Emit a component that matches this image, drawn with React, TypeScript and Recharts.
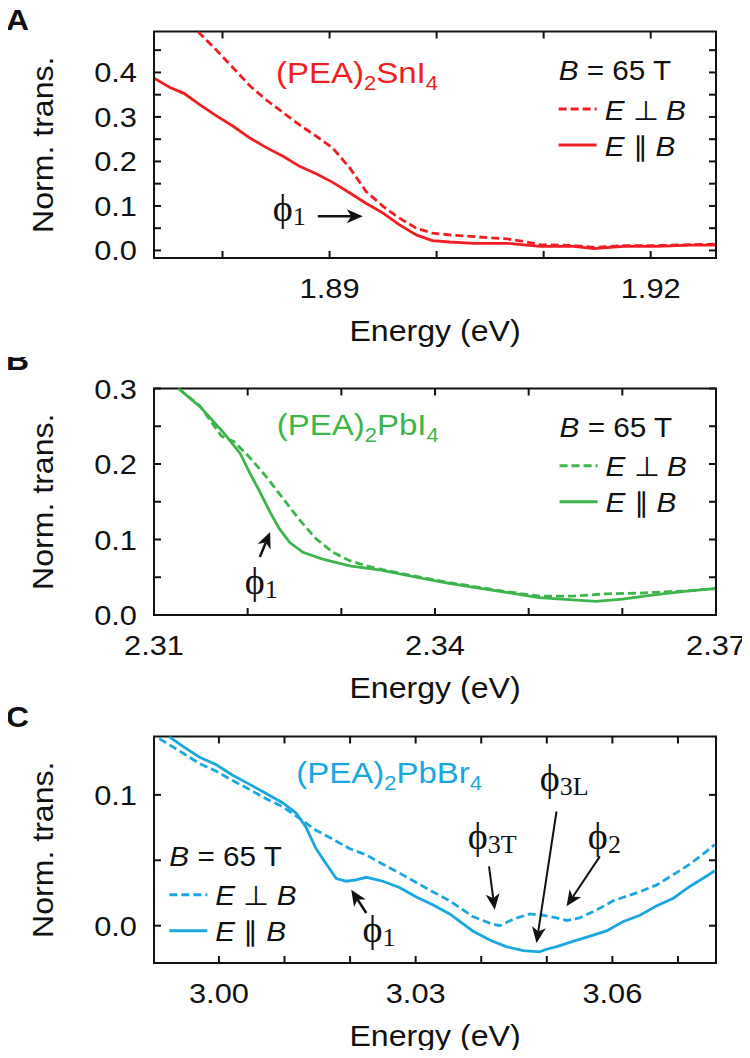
import React from 'react';
import { LineChart, Line, XAxis, YAxis, ReferenceDot, ReferenceLine, ReferenceArea } from 'recharts';

const SANS = '"Liberation Sans", Arial, Helvetica, sans-serif';
const SERIF = '"Liberation Serif", "DejaVu Serif", "Times New Roman", serif';
const SX = 1.1;
const INK = '#111';

const RED = '#f01e23';
const GREEN = '#3db54a';
const BLUE = '#1aa7e0';

const PLOT_W = 562;
const PLOT_H = 226.5;

// ---------------- Panel A: (PEA)2SnI4 ----------------
const snDomainX = [1.8736, 1.9261];
const snDomainY = [-0.017, 0.492];
const snTicksX = [1.88, 1.89, 1.9, 1.91, 1.92];
const snLabelsX = [1.89, 1.92];
const snTicksY = [0, 0.05, 0.1, 0.15, 0.2, 0.25, 0.3, 0.35, 0.4, 0.45];
const snLabelsY = [0, 0.1, 0.2, 0.3, 0.4];
const snParE = [1.8736, 1.8751, 1.8764, 1.8779, 1.8794, 1.881, 1.8826, 1.8841, 1.8857, 1.8872, 1.8888, 1.8903, 1.8919, 1.8934, 1.895, 1.8965, 1.8981, 1.8996, 1.9012, 1.9035, 1.9066, 1.9097, 1.9128, 1.9147, 1.9175, 1.9206, 1.9237, 1.926];
const snParT = [0.387, 0.366, 0.353, 0.327, 0.303, 0.279, 0.252, 0.231, 0.211, 0.189, 0.172, 0.153, 0.129, 0.106, 0.084, 0.058, 0.035, 0.022, 0.019, 0.016, 0.016, 0.009, 0.009, 0.004, 0.009, 0.009, 0.012, 0.012];
const snPerpE = [1.8777, 1.8794, 1.881, 1.8826, 1.8841, 1.8857, 1.8872, 1.8888, 1.8903, 1.8919, 1.8934, 1.895, 1.8965, 1.8981, 1.8996, 1.9012, 1.9035, 1.9066, 1.9081, 1.9097, 1.9128, 1.9147, 1.9175, 1.9206, 1.9237, 1.926];
const snPerpT = [0.492, 0.451, 0.41, 0.369, 0.338, 0.309, 0.282, 0.256, 0.23, 0.185, 0.133, 0.099, 0.073, 0.05, 0.039, 0.035, 0.031, 0.026, 0.02, 0.013, 0.011, 0.007, 0.011, 0.011, 0.013, 0.014];

// ---------------- Panel B: (PEA)2PbI4 ----------------
const pbiDomainX = [2.31, 2.37];
const pbiDomainY = [0, 0.3];
const pbiTicksX = [2.31, 2.32, 2.33, 2.34, 2.35, 2.36, 2.37];
const pbiLabelsX = [2.31, 2.34, 2.37];
const pbiTicksY = [0, 0.05, 0.1, 0.15, 0.2, 0.25, 0.3];
const pbiLabelsY = [0, 0.1, 0.2, 0.3];
const pbiParE = [2.3126, 2.3149, 2.3174, 2.3192, 2.3202, 2.3213, 2.3224, 2.3234, 2.3245, 2.3259, 2.328, 2.3309, 2.3344, 2.338, 2.3415, 2.344, 2.3476, 2.3511, 2.3547, 2.3572, 2.36, 2.3636, 2.3671, 2.3699];
const pbiParT = [0.3, 0.276, 0.242, 0.214, 0.189, 0.163, 0.136, 0.114, 0.096, 0.083, 0.074, 0.065, 0.059, 0.05, 0.042, 0.037, 0.03, 0.023, 0.02, 0.018, 0.021, 0.027, 0.032, 0.035];
const pbiPerpE = [2.3126, 2.3149, 2.3172, 2.3185, 2.3202, 2.322, 2.3238, 2.3256, 2.3273, 2.3291, 2.3309, 2.3327, 2.3344, 2.338, 2.3415, 2.344, 2.3476, 2.3511, 2.3547, 2.3582, 2.3618, 2.365, 2.3671, 2.3699];
const pbiPerpT = [0.3, 0.277, 0.237, 0.23, 0.209, 0.183, 0.154, 0.125, 0.101, 0.083, 0.072, 0.065, 0.06, 0.051, 0.043, 0.038, 0.031, 0.025, 0.025, 0.028, 0.029, 0.031, 0.032, 0.035];

// ---------------- Panel C: (PEA)2PbBr4 ----------------
const pbbDomainX = [2.9901, 3.0758];
const pbbDomainY = [-0.0285, 0.1446];
const pbbTicksX = [3.0, 3.01, 3.02, 3.03, 3.04, 3.05, 3.06, 3.07];
const pbbLabelsX = [3.0, 3.03, 3.06];
const pbbTicksY = [0, 0.05, 0.1];
const pbbLabelsY = [0, 0.1];
const pbbParE = [2.9924, 2.9945, 2.997, 2.9996, 3.0021, 3.0047, 3.0072, 3.0097, 3.0118, 3.0133, 3.0148, 3.0164, 3.0179, 3.0194, 3.0209, 3.0225, 3.025, 3.0276, 3.0301, 3.0326, 3.0352, 3.0387, 3.0413, 3.0438, 3.0464, 3.0489, 3.05, 3.0515, 3.054, 3.0566, 3.0591, 3.0616, 3.0642, 3.0667, 3.0693, 3.0718, 3.0744, 3.0756];
const pbbParT = [0.1446, 0.137, 0.129, 0.123, 0.115, 0.108, 0.101, 0.094, 0.086, 0.075, 0.059, 0.047, 0.036, 0.034, 0.035, 0.037, 0.034, 0.029, 0.022, 0.016, 0.009, -0.004, -0.011, -0.016, -0.019, -0.02, -0.018, -0.016, -0.012, -0.008, -0.004, 0.003, 0.008, 0.015, 0.021, 0.03, 0.038, 0.042];
const pbbPerpE = [2.9909, 2.9945, 2.997, 2.9996, 3.0021, 3.0047, 3.0072, 3.0097, 3.0123, 3.0148, 3.0174, 3.0199, 3.0225, 3.025, 3.0276, 3.0301, 3.0326, 3.0352, 3.0387, 3.0413, 3.0428, 3.0449, 3.0474, 3.0494, 3.0515, 3.053, 3.055, 3.0576, 3.0601, 3.0642, 3.0667, 3.0693, 3.0718, 3.0744, 3.0756];
const pbbPerpT = [0.143, 0.132, 0.124, 0.118, 0.111, 0.104, 0.097, 0.091, 0.082, 0.073, 0.066, 0.059, 0.054, 0.047, 0.04, 0.033, 0.026, 0.019, 0.007, 0.002, 0.0, 0.005, 0.009, 0.008, 0.006, 0.004, 0.006, 0.012, 0.019, 0.026, 0.031, 0.039, 0.047, 0.057, 0.062];

const toPts = (e: number[], t: number[]) => e.map((x, i) => ({ e: x, t: t[i] }));
const has = (arr: number[], v: number) => arr.some((a) => Math.abs(a - v) < 1e-9);

const TL = 7;
const TICK_FS = 28;

const BottomTick = (props: any) => {
  const { x, y, payload, labels, col } = props;
  const v = payload.value;
  return (
    <g>
      <line x1={x} y1={y} x2={x} y2={y - TL} stroke={col} strokeWidth={2} />
      <line x1={x} y1={y - PLOT_H} x2={x} y2={y - PLOT_H + TL} stroke={col} strokeWidth={2} />
      {has(labels, v) && (
        <text transform={`translate(${x},${y + 40}) scale(${SX},1)`} textAnchor="middle" fontSize={TICK_FS} fontFamily={SANS} fill={INK}>
          {v.toFixed(2)}
        </text>
      )}
    </g>
  );
};
const LeftTick = (props: any) => {
  const { x, y, payload, labels, col } = props;
  const v = payload.value;
  return (
    <g>
      <line x1={x} y1={y} x2={x + TL} y2={y} stroke={col} strokeWidth={2} />
      <line x1={x + PLOT_W} y1={y} x2={x + PLOT_W - TL} y2={y} stroke={col} strokeWidth={2} />
      {has(labels, v) && (
        <text transform={`translate(${x - 17},${y + 10}) scale(${SX},1)`} textAnchor="end" fontSize={TICK_FS} fontFamily={SANS} fill={INK}>
          {v.toFixed(1)}
        </text>
      )}
    </g>
  );
};

// axis titles (and the panel letter) drawn through the axes' own label slots
const XTitle = (props: any) => {
  const vb = props.viewBox || { x: 154, y: 258, width: PLOT_W };
  return (
    <text transform={`translate(${vb.x + vb.width / 2},${vb.y + 83}) scale(1.07,1)`} textAnchor="middle" fontSize={30} fontFamily={SANS} fill={INK}>
      Energy (eV)
    </text>
  );
};
const YTitle = (props: any) => {
  const vb = props.viewBox || { x: 74, y: 31.5, width: 80, height: PLOT_H };
  const { letter, letterY } = props;
  return (
    <g>
      <text transform={`translate(53,${vb.y + vb.height / 2}) rotate(-90) scale(1.07,1)`} textAnchor="middle" fontSize={30} fontFamily={SANS} fill={INK}>
        Norm. trans.
      </text>
      <text transform={`translate(6,${letterY}) scale(${SX},1)`} fontSize={29} fontWeight="bold" fontFamily={SANS} fill={INK}>
        {letter}
      </text>
    </g>
  );
};

const Compound = ({ x, y, color, parts }: any) => (
  <text transform={`translate(${x},${y}) scale(${SX},1)`} fontSize={30} fontFamily={SANS} fill={color}>
    {parts.map((s: string, i: number) =>
      i % 2 === 1 ? (
        <tspan key={i} fontSize={20} dy={7}>{s}</tspan>
      ) : (
        <tspan key={i} dy={i === 0 ? 0 : -7}>{s}</tspan>
      )
    )}
  </text>
);

const LegendBlock = ({ x, y, color }: any) => {
  const fs = 27;
  const T = (ty: number, children: any, tx = 0) => (
    <text transform={`translate(${x + tx},${y + ty}) scale(${SX},1)`} fontSize={fs} fontFamily={SANS} fill={INK}>
      {children}
    </text>
  );
  return (
    <g>
      {T(0, <><tspan fontStyle="italic">B</tspan><tspan> = 65 T</tspan></>)}
      <line x1={x} y1={y + 29} x2={x + 38} y2={y + 29} stroke={color} strokeWidth={3} strokeDasharray="8 4" />
      {T(39.5, <><tspan fontStyle="italic">E</tspan><tspan> ⊥ </tspan><tspan fontStyle="italic">B</tspan></>, 46)}
      <line x1={x} y1={y + 65} x2={x + 38} y2={y + 65} stroke={color} strokeWidth={3} />
      {T(75.5, <><tspan fontStyle="italic">E</tspan><tspan> ∥ </tspan><tspan fontStyle="italic">B</tspan></>, 46)}
    </g>
  );
};

const Phi = ({ x, y, sub }: any) => (
  <text x={x} y={y - 4} fontSize={38} fontFamily={SERIF} fill={INK}>
    ϕ<tspan fontSize={26} dy={4}>{sub}</tspan>
  </text>
);

const Arrow = ({ x1, y1, x2, y2, w = 2 }: any) => {
  const dx = x2 - x1;
  const dy = y2 - y1;
  const len = Math.sqrt(dx * dx + dy * dy) || 1;
  const ux = dx / len;
  const uy = dy / len;
  const hl = 16;
  const hw = 7;
  const bx = x2 - ux * hl;
  const by = y2 - uy * hl;
  const nx = x2 - ux * hl * 0.72;
  const ny = y2 - uy * hl * 0.72;
  const pts = [
    [x2, y2],
    [bx - uy * hw, by + ux * hw],
    [nx, ny],
    [bx + uy * hw, by - ux * hw],
  ]
    .map((q) => q.join(','))
    .join(' ');
  return (
    <g>
      <line x1={x1} y1={y1} x2={nx} y2={ny} stroke={INK} strokeWidth={w} />
      <polygon points={pts} fill={INK} />
    </g>
  );
};

const note = (x: number, y: number, render: (cx: number, cy: number) => any, key: string) => (
  <ReferenceDot key={key} x={x} y={y} r={1} fill="none" stroke="none" shape={(p: any) => render(p.cx, p.cy)} />
);
const arrow = (a: number[], b: number[], key: string, w = 2) => (
  <ReferenceLine
    key={key}
    segment={[{ x: a[0], y: a[1] }, { x: b[0], y: b[1] }]}
    shape={(p: any) => <Arrow x1={p.x1} y1={p.y1} x2={p.x2} y2={p.y2} w={w} />}
  />
);

const axisLine = { stroke: INK, strokeWidth: 2 };

const Panel = ({ top, color, letter, letterY, xDomain, yDomain, xTicks, xLabels, yTicks, yLabels, perp, par, extras }: any) => (
  <div style={{ position: 'absolute', left: 0, top, width: 750, height: 350 }}>
    <LineChart width={750} height={350} margin={{ top: 31.5, right: 34, bottom: 32, left: 74 }}>
      <XAxis dataKey="e" type="number" domain={xDomain} allowDataOverflow ticks={xTicks} interval={0} height={60} tickSize={0} tickMargin={0} tickLine={false} axisLine={axisLine} tick={<BottomTick labels={xLabels} col={INK} />} label={<XTitle />} />
      <YAxis type="number" domain={yDomain} allowDataOverflow ticks={yTicks} interval={0} width={80} tickSize={0} tickMargin={0} tickLine={false} axisLine={axisLine} tick={<LeftTick labels={yLabels} col={INK} />} label={<YTitle letter={letter} letterY={letterY} />} />
      <ReferenceArea x1={xDomain[0]} x2={xDomain[1]} y1={yDomain[0]} y2={yDomain[1]} fill="none" fillOpacity={0} stroke={INK} strokeWidth={2} ifOverflow="visible" />
      <Line data={perp} dataKey="t" type="linear" dot={false} activeDot={false} stroke={color} strokeWidth={2.8} strokeDasharray="8 4" isAnimationActive={false} />
      <Line data={par} dataKey="t" type="linear" dot={false} activeDot={false} stroke={color} strokeWidth={2.8} isAnimationActive={false} />
      {extras}
    </LineChart>
  </div>
);

export default function App() {
  const extrasA = [
    note(1.885, 0.376, (x, y) => <Compound x={x} y={y} color={RED} parts={['(PEA)', '2', 'SnI', '4']} />, 'ca'),
    note(1.9114, 0.383, (x, y) => <LegendBlock x={x} y={y} color={RED} />, 'la'),
    note(1.8847, 0.0562, (x, y) => <Phi x={x} y={y} sub="1" />, 'pa'),
    arrow([1.8889, 0.0771], [1.8931, 0.0771], 'aa', 2.5),
  ];
  const extrasB = [
    note(2.3231, 0.238, (x, y) => <Compound x={x} y={y} color={GREEN} parts={['(PEA)', '2', 'PbI', '4']} />, 'cb'),
    note(2.3533, 0.236, (x, y) => <LegendBlock x={x} y={y} color={GREEN} />, 'lb'),
    note(2.3197, 0.0223, (x, y) => <Phi x={x} y={y} sub="1" />, 'pb'),
    arrow([2.3213, 0.0767], [2.3224, 0.11], 'ab', 2.5),
  ];
  const extrasC = [
    note(3.0118, 0.109, (x, y) => <Compound x={x} y={y} color={BLUE} parts={['(PEA)', '2', 'PbBr', '4']} />, 'cc'),
    note(2.99244, 0.0458, (x, y) => <LegendBlock x={x} y={y} color={BLUE} />, 'lc'),
    note(3.0219, -0.0153, (x, y) => <Phi x={x} y={y} sub="1" />, 'p1'),
    arrow([3.02247, 0.0097], [3.02018, 0.0275], 'a1', 2.5),
    note(3.03794, 0.0555, (x, y) => <Phi x={x} y={y} sub="3T" />, 'p3t'),
    arrow([3.04119, 0.0453], [3.04206, 0.0122], 'a3t'),
    note(3.04893, 0.1, (x, y) => <Phi x={x} y={y} sub="3L" />, 'p3l'),
    arrow([3.05148, 0.0873], [3.04843, -0.0132], 'a3l'),
    note(3.05626, 0.0555, (x, y) => <Phi x={x} y={y} sub="2" />, 'p2'),
    arrow([3.05809, 0.053], [3.05301, 0.0148], 'a2'),
  ];
  return (
    <div style={{ position: 'relative', width: 750, height: 1058, margin: -8, background: '#fff' }}>
      <Panel top={0} color={RED} letter="A" letterY={30} xDomain={snDomainX} yDomain={snDomainY} xTicks={snTicksX} xLabels={snLabelsX} yTicks={snTicksY} yLabels={snLabelsY} perp={toPts(snPerpE, snPerpT)} par={toPts(snParE, snParT)} extras={extrasA} />
      <Panel top={357} color={GREEN} letter="B" letterY={13} xDomain={pbiDomainX} yDomain={pbiDomainY} xTicks={pbiTicksX} xLabels={pbiLabelsX} yTicks={pbiTicksY} yLabels={pbiLabelsY} perp={toPts(pbiPerpE, pbiPerpT)} par={toPts(pbiParE, pbiParT)} extras={extrasB} />
      <Panel top={705} color={BLUE} letter="C" letterY={22} xDomain={pbbDomainX} yDomain={pbbDomainY} xTicks={pbbTicksX} xLabels={pbbLabelsX} yTicks={pbbTicksY} yLabels={pbbLabelsY} perp={toPts(pbbPerpE, pbbPerpT)} par={toPts(pbbParE, pbbParT)} extras={extrasC} />
    </div>
  );
}
